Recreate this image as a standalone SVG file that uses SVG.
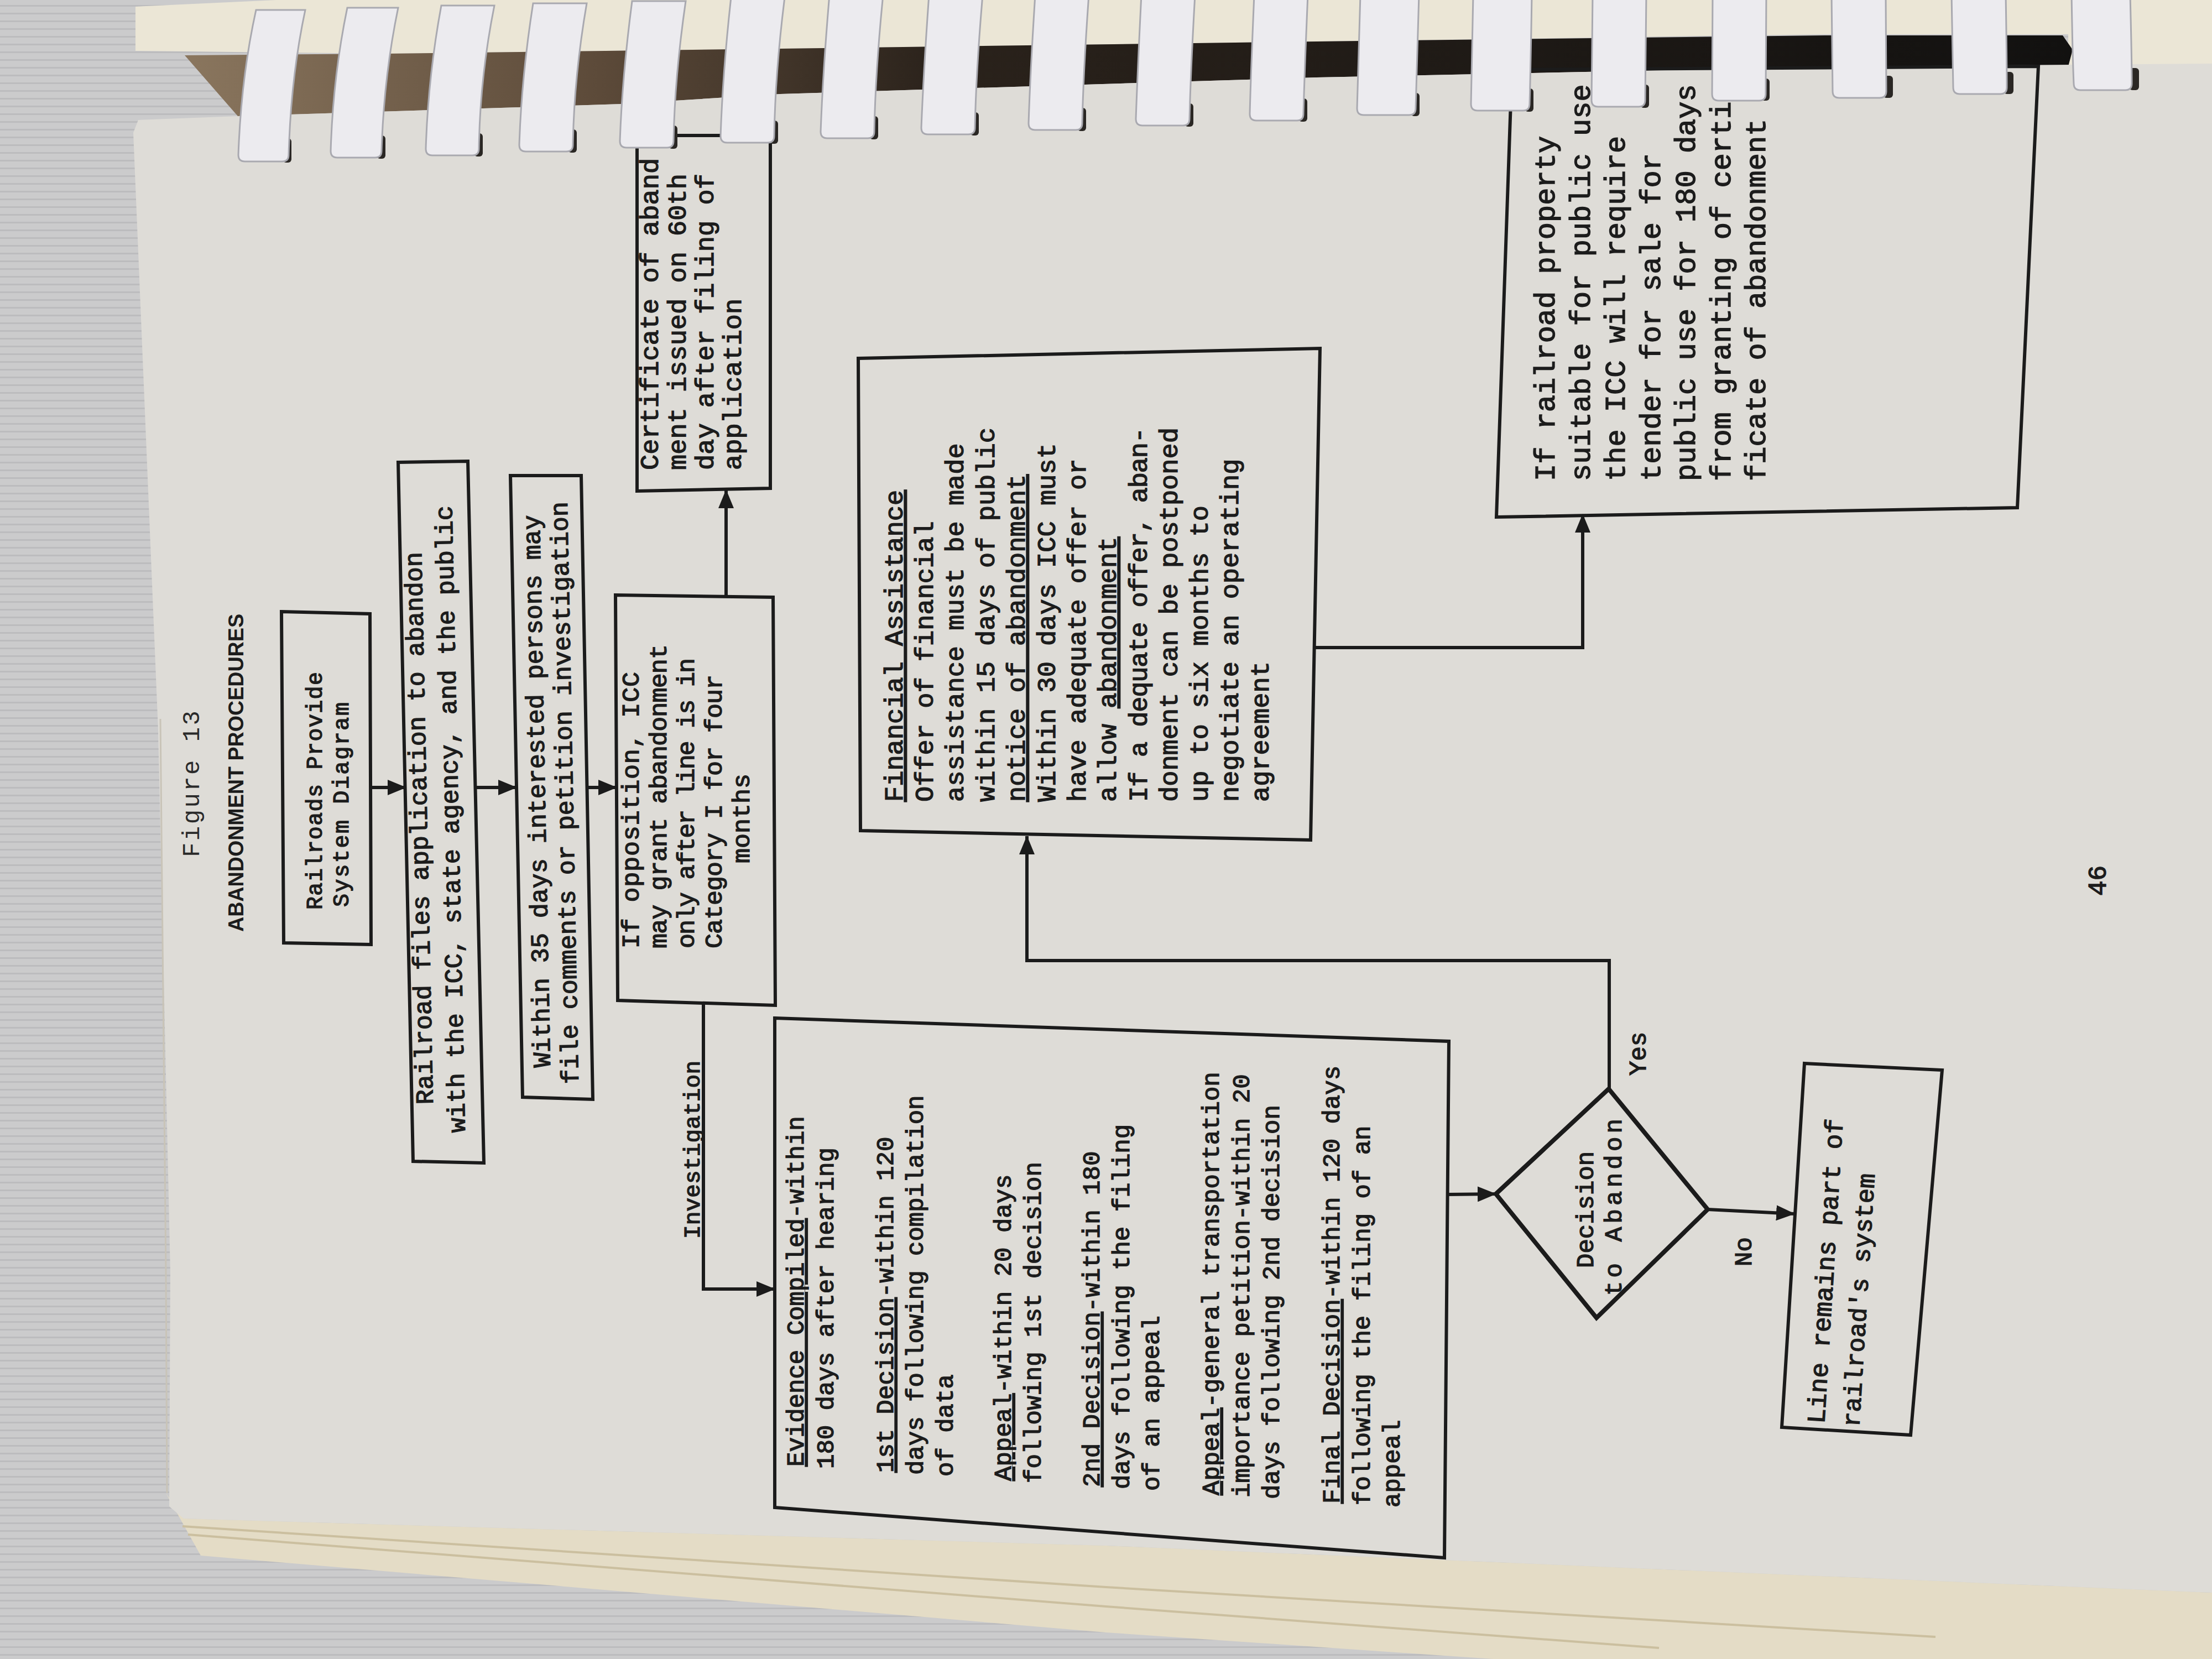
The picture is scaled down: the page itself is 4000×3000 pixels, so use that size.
<svg xmlns="http://www.w3.org/2000/svg" width="4000" height="3000" viewBox="0 0 4000 3000">
<defs>
<style>
.box{fill:none;stroke:#1b1b1b;stroke-width:6;stroke-linejoin:miter}
.dia{fill:none;stroke:#1b1b1b;stroke-width:8;stroke-linejoin:miter}
.conn{fill:none;stroke:#1b1b1b;stroke-width:6}
.t{font-family:"Liberation Mono","DejaVu Sans Mono",monospace;fill:#1c1c1c;stroke:#1c1c1c;stroke-width:1.4}
.tl{font-family:"Liberation Mono","DejaVu Sans Mono",monospace;fill:#2a2a2a}
.s{font-family:"Liberation Sans","DejaVu Sans",sans-serif;fill:#1c1c1c;font-weight:bold}
.u{text-decoration:underline}
.coil{fill:#ecebef;stroke:#a9a9b0;stroke-width:3}
.hole{fill:#2a2724}
</style>
<marker id="ah" viewBox="0 0 34 28" refX="33" refY="14" markerWidth="34" markerHeight="28" markerUnits="userSpaceOnUse" orient="auto">
<path d="M0,0 L34,14 L0,28 Z" fill="#1b1b1b"/>
</marker>
<pattern id="fabric" width="60" height="14" patternUnits="userSpaceOnUse">
<rect width="60" height="14" fill="#cbcbcc"/>
<rect y="9" width="60" height="3" fill="#bcbcbe"/>
</pattern>
<linearGradient id="gap" x1="0" y1="0" x2="1" y2="0">
<stop offset="0" stop-color="#8a765e"/>
<stop offset="0.22" stop-color="#5c4a39"/>
<stop offset="0.4" stop-color="#2a221b"/>
<stop offset="1" stop-color="#121110"/>
</linearGradient>
</defs>

<g id="background">
<rect width="4000" height="3000" fill="url(#fabric)"/>
<polygon points="245,12 500,0 4000,0 4000,118 3740,118 3740,62 3300,62 2381,75 1411,88 700,97 245,92" fill="#ebe6d6"/>
<polygon points="334,100 700,97 1411,88 2381,75 3300,64 3730,64 3748,90 3740,120 3350,120 2381,140 1411,170 1125,188 430,210" fill="url(#gap)"/>
<polygon points="300,2700 363,2813 2000,2952 2700,3000 4000,3000 4000,2880 2000,2795 332,2746" fill="#e4dcc6"/>
<path d="M340,2775 L2000,2905 L3000,2980 M330,2760 L2000,2870 L3500,2960" fill="none" stroke="#cbbf9f" stroke-width="4"/>
<polygon points="250,217 430,210 1125,188 1411,170 2381,140 3350,120 4000,115 4000,2880 2000,2795 332,2746 306,2724 308,2300 286,1320 241,240" fill="#dedcd7"/>
<path d="M290,1300 L300,2300 L302,2700" fill="none" stroke="#c9c4b8" stroke-width="3"/>
</g>

<g id="title">
<text class="tl" font-size="44" transform="translate(360 1550) rotate(-90)" textLength="265">Figure 13</text>
<text class="s" font-size="38" transform="translate(440 1685) rotate(-90)" textLength="575" lengthAdjust="spacingAndGlyphs">ABANDONMENT PROCEDURES</text>
</g>

<g id="n-system-diagram">
<polygon class="box" points="509,1106 669,1110 671,1708 513,1705"/>
<text class="t" font-size="40" transform="translate(582 1645) rotate(-90)" textLength="430">Railroads Provide</text>
<text class="t" font-size="40" transform="translate(630 1640) rotate(-90)" textLength="370">System Diagram</text>
</g>

<g id="n-files-application">
<polygon class="box" points="720,836 846,834 875,2103 747,2100"/>
<text class="t" font-size="45" transform="translate(783 1997) rotate(-91.2)">Railroad files application to abandon</text>
<text class="t" font-size="45" transform="translate(841 2048) rotate(-91.2)">with the ICC, state agency, and the public</text>
</g>

<g id="n-within-35-days">
<polygon class="box" points="923,860 1051,860 1072,1988 945,1984"/>
<text class="t" font-size="45" transform="translate(995 1930) rotate(-91.1)">Within 35 days interested persons may</text>
<text class="t" font-size="45" transform="translate(1046 1960) rotate(-91.1)">file comments or petition investigation</text>
</g>

<g id="n-if-opposition">
<polygon class="box" points="1113,1076 1398,1080 1402,1818 1117,1809"/>
<text class="t" font-size="45" transform="translate(1155 1715) rotate(-90)" textLength="500">If opposition, ICC</text>
<text class="t" font-size="45" transform="translate(1205 1715) rotate(-90)" textLength="550">may grant abandonment</text>
<text class="t" font-size="45" transform="translate(1255 1715) rotate(-90)" textLength="525">only after line is in</text>
<text class="t" font-size="45" transform="translate(1305 1715) rotate(-90)" textLength="495">Category I for four</text>
<text class="t" font-size="45" text-anchor="middle" transform="translate(1355 1480) rotate(-90)">months</text>
</g>

<g id="n-certificate">
<polygon class="box" points="1152,245 1393,245 1393,883 1152,888"/>
<text class="t" font-size="47" transform="translate(1190 850) rotate(-90)">Certificate of aband</text>
<text class="t" font-size="47" transform="translate(1240 850) rotate(-90)">ment issued on 60th</text>
<text class="t" font-size="47" transform="translate(1290 850) rotate(-90)">day after filing of</text>
<text class="t" font-size="47" transform="translate(1340 850) rotate(-90)">application</text>
</g>

<g id="n-evidence">
<polygon class="box" points="1401,1841 2620,1883 2612,2817 1401,2726"/>
<text class="t" font-size="44" transform="translate(1453 2652) rotate(-90)"><tspan class="u">Evidence Compiled</tspan>-within</text>
<text class="t" font-size="44" transform="translate(1507 2656) rotate(-90)">180 days after hearing</text>
<text class="t" font-size="44" transform="translate(1615 2663) rotate(-90)"><tspan class="u">1st Decision</tspan>-within 120</text>
<text class="t" font-size="44" transform="translate(1669 2667) rotate(-90)">days following compilation</text>
<text class="t" font-size="44" transform="translate(1723 2670) rotate(-90)">of data</text>
<text class="t" font-size="44" transform="translate(1828 2678) rotate(-90)"><tspan class="u">Appeal</tspan>-within 20 days</text>
<text class="t" font-size="44" transform="translate(1882 2682) rotate(-90)">following 1st decision</text>
<text class="t" font-size="44" transform="translate(1988 2689) rotate(-90)"><tspan class="u">2nd Decision</tspan>-within 180</text>
<text class="t" font-size="44" transform="translate(2042 2693) rotate(-90)">days following the filing</text>
<text class="t" font-size="44" transform="translate(2096 2696) rotate(-90)">of an appeal</text>
<text class="t" font-size="44" transform="translate(2204 2704) rotate(-90)"><tspan class="u">Appeal</tspan>-general transportation</text>
<text class="t" font-size="44" transform="translate(2259 2708) rotate(-90)">importance petition-within 20</text>
<text class="t" font-size="44" transform="translate(2313 2711) rotate(-90)">days following 2nd decision</text>
<text class="t" font-size="44" transform="translate(2422 2719) rotate(-90)"><tspan class="u">Final Decision</tspan>-within 120 days</text>
<text class="t" font-size="44" transform="translate(2477 2722) rotate(-90)">following the filing of an</text>
<text class="t" font-size="44" transform="translate(2531 2726) rotate(-90)">appeal</text>
</g>

<g id="n-financial-assistance">
<polygon class="box" points="1552,648 2387,630 2370,1519 1556,1502"/>
<text class="t" font-size="47" transform="translate(1632 1450) rotate(-90)"><tspan class="u">Financial Assistance</tspan></text>
<text class="t" font-size="47" transform="translate(1687 1450) rotate(-90)">Offer of financial</text>
<text class="t" font-size="47" transform="translate(1742 1450) rotate(-90)">assistance must be made</text>
<text class="t" font-size="47" transform="translate(1798 1450) rotate(-90)">within 15 days of public</text>
<text class="t" font-size="47" transform="translate(1853 1450) rotate(-90)"><tspan class="u">notice of abandonment</tspan></text>
<text class="t" font-size="47" transform="translate(1908 1450) rotate(-90)">Within 30 days ICC must</text>
<text class="t" font-size="47" transform="translate(1963 1450) rotate(-90)">have adequate offer or</text>
<text class="t" font-size="47" transform="translate(2018 1450) rotate(-90)">allow <tspan class="u">abandonment</tspan></text>
<text class="t" font-size="47" transform="translate(2074 1450) rotate(-90)" textLength="677">If a dequate offer, aban-</text>
<text class="t" font-size="47" transform="translate(2129 1450) rotate(-90)">donment can be postponed</text>
<text class="t" font-size="47" transform="translate(2184 1450) rotate(-90)">up to six months to</text>
<text class="t" font-size="47" transform="translate(2239 1450) rotate(-90)">negotiate an operating</text>
<text class="t" font-size="47" transform="translate(2294 1450) rotate(-90)">agreement</text>
</g>

<g id="n-decision">
<polygon class="dia" points="2705,2159 2909,1969 3088,2187 2887,2383"/>
<text class="t" font-size="44" transform="translate(2881 2293) rotate(-90)">Decision</text>
<text class="t" font-size="44" transform="translate(2932 2343) rotate(-90)" textLength="320">to Abandon</text>
</g>

<g id="n-public-use">
<polygon class="box" points="2734,126 3686,120 3648,918 2706,935"/>
<text class="t" font-size="52" transform="translate(2811 870) rotate(-90)">If railroad property</text>
<text class="t" font-size="52" transform="translate(2875 870) rotate(-90)">suitable for public use</text>
<text class="t" font-size="52" transform="translate(2938 870) rotate(-90)">the ICC will require</text>
<text class="t" font-size="52" transform="translate(3002 870) rotate(-90)">tender for sale for</text>
<text class="t" font-size="52" transform="translate(3065 870) rotate(-90)">public use for 180 days</text>
<text class="t" font-size="52" transform="translate(3129 870) rotate(-90)">from granting of certi</text>
<text class="t" font-size="52" transform="translate(3192 870) rotate(-90)">ficate of abandonment</text>
</g>

<g id="n-line-remains">
<polygon class="box" points="3263,1923 3512,1935 3455,2595 3222,2581"/>
<text class="t" font-size="46" transform="translate(3299 2575) rotate(-86.5)">Line remains part of</text>
<text class="t" font-size="45" transform="translate(3362 2581) rotate(-86.5)">railroad's system</text>
</g>

<g id="connectors">
<path class="conn" marker-end="url(#ah)" d="M671,1424 H734"/>
<path class="conn" marker-end="url(#ah)" d="M861,1424 H934"/>
<path class="conn" marker-end="url(#ah)" d="M1062,1424 H1115"/>
<path class="conn" marker-end="url(#ah)" d="M1313,1078 V886"/>
<path class="conn" marker-end="url(#ah)" d="M1272,1813 V2331 H1401"/>
<path class="conn" marker-end="url(#ah)" d="M2616,2160 L2705,2159"/>
<path class="conn" marker-end="url(#ah)" d="M2910,1969 V1737 H1857 V1512"/>
<path class="conn" marker-end="url(#ah)" d="M2378,1171 H2862 V930"/>
<path class="conn" marker-end="url(#ah)" d="M3088,2187 L3245,2195"/>
<text class="t" font-size="41" transform="translate(1265 2240) rotate(-90)" textLength="322">Investigation</text>
<text class="t" font-size="44" transform="translate(2976 1945) rotate(-90)">Yes</text>
<text class="t" font-size="44" transform="translate(3167 2290) rotate(-90)">No</text>
</g>

<g id="page-number">
<text class="t" font-size="46" transform="translate(3808 1620) rotate(-90)">46</text>
</g>

<g id="binding">
<rect class="hole" x="511" y="250" width="16" height="44" rx="6"/>
<rect class="hole" x="681" y="245" width="16" height="42" rx="6"/>
<rect class="hole" x="857" y="241" width="16" height="42" rx="6"/>
<rect class="hole" x="1027" y="234" width="16" height="42" rx="6"/>
<rect class="hole" x="1209" y="227" width="16" height="42" rx="6"/>
<rect class="hole" x="1391" y="218" width="16" height="42" rx="6"/>
<rect class="hole" x="1572" y="210" width="16" height="42" rx="6"/>
<rect class="hole" x="1754" y="203" width="16" height="42" rx="6"/>
<rect class="hole" x="1948" y="195" width="16" height="42" rx="6"/>
<rect class="hole" x="2142" y="187" width="16" height="42" rx="6"/>
<rect class="hole" x="2348" y="178" width="16" height="42" rx="6"/>
<rect class="hole" x="2551" y="168" width="16" height="42" rx="6"/>
<rect class="hole" x="2757" y="160" width="16" height="42" rx="6"/>
<rect class="hole" x="2966" y="153" width="16" height="42" rx="6"/>
<rect class="hole" x="3184" y="142" width="16" height="40" rx="6"/>
<rect class="hole" x="3405" y="137" width="18" height="40" rx="6"/>
<rect class="hole" x="3623" y="130" width="18" height="40" rx="6"/>
<rect class="hole" x="3850" y="123" width="18" height="40" rx="6"/>
<path class="coil" d="M463,18 H552 Q526,140 522,280 Q522,292 510,292 H443 Q431,292 431,280 Q436,140 463,18 Z"/>
<path class="coil" d="M628,14 H720 Q694,140 690,273 Q690,285 678,285 H610 Q598,285 598,273 Q602,140 628,14 Z"/>
<path class="coil" d="M798,10 H894 Q868,140 866,269 Q866,281 854,281 H782 Q770,281 770,269 Q774,140 798,10 Z"/>
<path class="coil" d="M964,6 H1061 Q1038,140 1036,262 Q1036,274 1024,274 H951 Q939,274 939,262 Q943,140 964,6 Z"/>
<path class="coil" d="M1143,2 H1240 Q1220,140 1218,255 Q1218,267 1206,267 H1133 Q1121,267 1121,255 Q1125,140 1143,2 Z"/>
<path class="coil" d="M1322,-5 H1419 Q1402,130 1400,246 Q1400,258 1388,258 H1315 Q1303,258 1303,246 Q1307,130 1322,-5 Z"/>
<path class="coil" d="M1500,-10 H1597 Q1583,130 1581,238 Q1581,250 1569,250 H1496 Q1484,250 1484,238 Q1488,130 1500,-10 Z"/>
<path class="coil" d="M1680,-10 H1777 Q1765,130 1763,231 Q1763,243 1751,243 H1678 Q1666,243 1666,231 Q1670,130 1680,-10 Z"/>
<path class="coil" d="M1872,-10 H1969 Q1959,130 1957,223 Q1957,235 1945,235 H1872 Q1860,235 1860,223 Q1863,130 1872,-10 Z"/>
<path class="coil" d="M2064,-10 H2161 Q2153,130 2151,215 Q2151,227 2139,227 H2066 Q2054,227 2054,215 Q2057,130 2064,-10 Z"/>
<path class="coil" d="M2268,-10 H2365 Q2359,130 2357,206 Q2357,218 2345,218 H2272 Q2260,218 2260,206 Q2262,130 2268,-10 Z"/>
<path class="coil" d="M2460,-10 H2566 Q2562,120 2560,196 Q2560,208 2548,208 H2466 Q2454,208 2454,196 Q2456,120 2460,-10 Z"/>
<path class="coil" d="M2664,-10 H2770 Q2768,120 2766,188 Q2766,200 2754,200 H2672 Q2660,200 2660,188 Q2661,120 2664,-10 Z"/>
<path class="coil" d="M2880,-10 H2977 Q2976,120 2975,181 Q2975,193 2963,193 H2890 Q2878,193 2878,181 Q2879,120 2880,-10 Z"/>
<path class="coil" d="M3097,-10 H3194 Q3193,110 3193,170 Q3193,182 3181,182 H3108 Q3096,182 3096,170 Q3096,110 3097,-10 Z"/>
<path class="coil" d="M3312,-10 H3410 Q3411,110 3411,165 Q3411,177 3399,177 H3326 Q3314,177 3314,165 Q3313,110 3312,-10 Z"/>
<path class="coil" d="M3529,-10 H3627 Q3629,110 3629,158 Q3629,170 3617,170 H3544 Q3532,170 3532,158 Q3531,110 3529,-10 Z"/>
<path class="coil" d="M3746,-10 H3852 Q3855,110 3855,151 Q3855,163 3843,163 H3762 Q3750,163 3750,151 Q3748,110 3746,-10 Z"/>
</g>
</svg>
